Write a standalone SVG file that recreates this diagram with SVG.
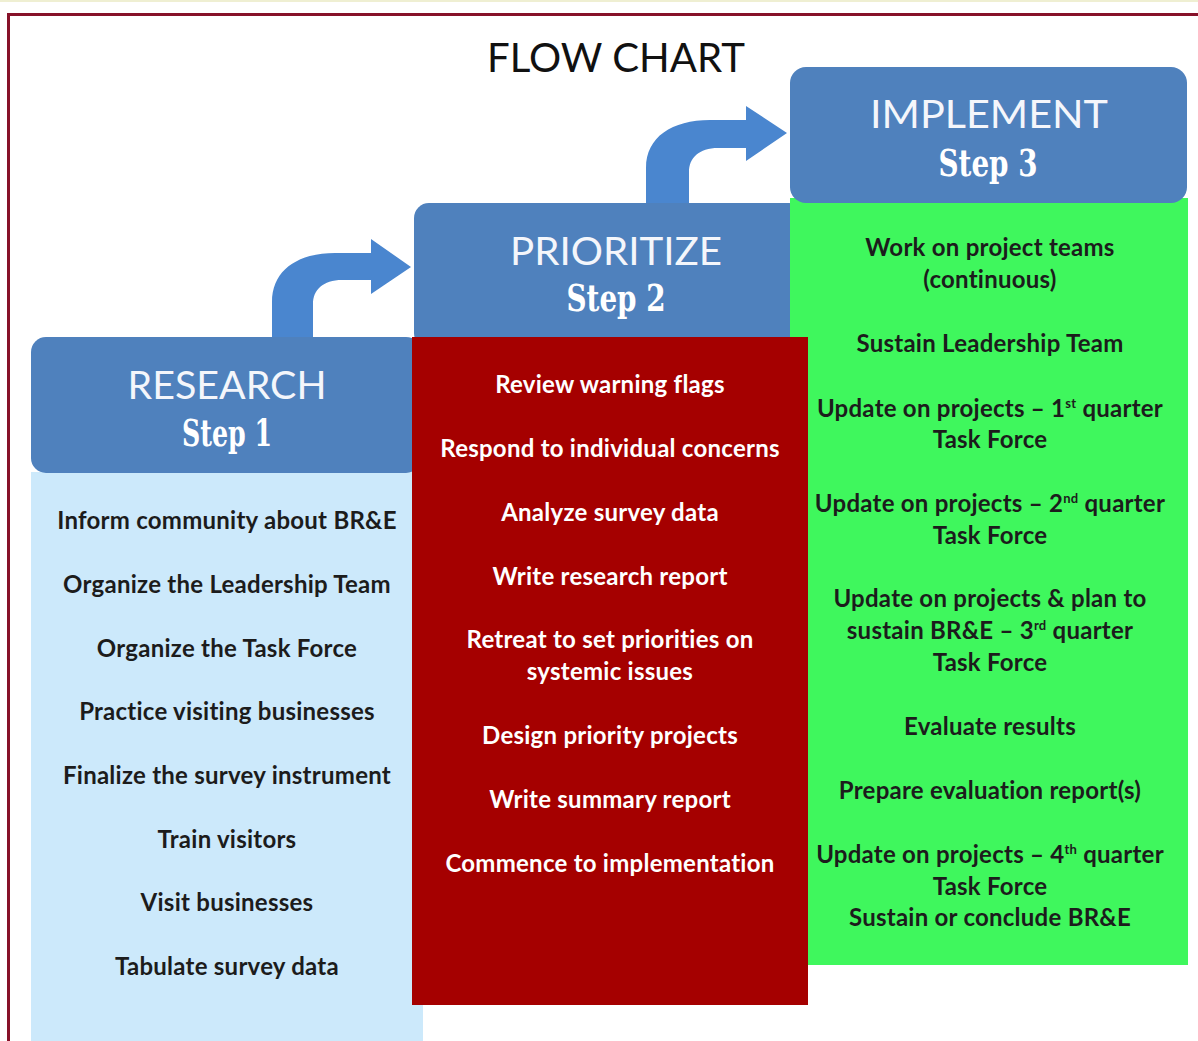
<svg xmlns="http://www.w3.org/2000/svg" width="1198" height="1041" viewBox="0 0 1198 1041">
<style>
.hdr{fill:#4f81bd}
.htitle{font-family:Lato,"Liberation Sans",sans-serif;font-size:38px;fill:#f4f6fb;text-anchor:middle}
.step{font-family:"DejaVu Serif","Liberation Serif",serif;font-weight:bold;font-size:37px;fill:#ffffff;text-anchor:middle}
.item{font-family:Lato,"Liberation Sans",sans-serif;font-weight:bold;font-size:24px;letter-spacing:0.25px;text-anchor:middle}
.dark{fill:#1c1c1c}
.light{fill:#ffffff}
.arrow{fill:#4a86cf}
.sup{font-size:13px}
</style>
<rect x="0" y="0" width="1198" height="1041" fill="#ffffff"/>
<rect x="0" y="0" width="1198" height="2" fill="#efefd2"/>
<path d="M8.5,1041 V14.5 H1198" fill="none" stroke="#871129" stroke-width="3"/>
<g id="title">
<text x="616" y="72" font-family="Lato,'Liberation Sans',sans-serif" font-size="40" fill="#111111" text-anchor="middle" textLength="258" lengthAdjust="spacingAndGlyphs">FLOW CHART</text>
</g>
<g id="connectors">
<path class="arrow" d="M272,340 V302 C272,270 298,253 335,253 H371 V239 L411,267 L371,294 V280 H342 C323,280 313,290 313,304 V340 Z"/>
<path class="arrow" d="M646,206 V168 C646,137 672,120 710,120 H746 V106 L787,133 L746,161 V148 H718 C699,148 689,158 689,172 V206 Z"/>
</g>
<g id="node-research">
<rect x="31" y="472" width="392" height="569" fill="#cce9fb"/>
<rect class="hdr" x="31" y="337" width="390" height="136" rx="15" ry="15"/>
<text class="htitle" x="227" y="399" textLength="199" lengthAdjust="spacingAndGlyphs">RESEARCH</text>
<text class="step" x="227" y="446" textLength="90" lengthAdjust="spacingAndGlyphs">Step 1</text>
<text class="item dark" x="227" y="529">Inform community about BR&amp;E</text>
<text class="item dark" x="227" y="593">Organize the Leadership Team</text>
<text class="item dark" x="227" y="657">Organize the Task Force</text>
<text class="item dark" x="227" y="720">Practice visiting businesses</text>
<text class="item dark" x="227" y="784">Finalize the survey instrument</text>
<text class="item dark" x="227" y="848">Train visitors</text>
<text class="item dark" x="227" y="911">Visit businesses</text>
<text class="item dark" x="227" y="975">Tabulate survey data</text>
</g>
<g id="node-prioritize">
<rect class="hdr" x="414" y="203" width="390" height="145" rx="15" ry="15"/>
</g>
<g id="node-implement">
<rect x="790" y="198" width="398" height="767" fill="#3ff75d"/>
<rect class="hdr" x="790" y="67" width="397" height="136" rx="16" ry="16"/>
<text class="htitle" x="989" y="128" textLength="238" lengthAdjust="spacingAndGlyphs">IMPLEMENT</text>
<text class="step" x="988" y="176" textLength="99" lengthAdjust="spacingAndGlyphs">Step 3</text>
<text class="item dark" x="990" y="256">Work on project teams</text>
<text class="item dark" x="990" y="288">(continuous)</text>
<text class="item dark" x="990" y="352">Sustain Leadership Team</text>
<text class="item dark" x="990" y="417">Update on projects – 1<tspan class="sup" dy="-9">st</tspan><tspan dy="9"> quarter</tspan></text>
<text class="item dark" x="990" y="448">Task Force</text>
<text class="item dark" x="990" y="512">Update on projects – 2<tspan class="sup" dy="-9">nd</tspan><tspan dy="9"> quarter</tspan></text>
<text class="item dark" x="990" y="544">Task Force</text>
<text class="item dark" x="990" y="607">Update on projects &amp; plan to</text>
<text class="item dark" x="990" y="639">sustain BR&amp;E – 3<tspan class="sup" dy="-9">rd</tspan><tspan dy="9"> quarter</tspan></text>
<text class="item dark" x="990" y="671">Task Force</text>
<text class="item dark" x="990" y="735">Evaluate results</text>
<text class="item dark" x="990" y="799">Prepare evaluation report(s)</text>
<text class="item dark" x="990" y="863">Update on projects – 4<tspan class="sup" dy="-9">th</tspan><tspan dy="9"> quarter</tspan></text>
<text class="item dark" x="990" y="895">Task Force</text>
<text class="item dark" x="990" y="926">Sustain or conclude BR&amp;E</text>
</g>
<g id="node-prioritize-body">
<rect x="412" y="337" width="396" height="668" fill="#a50000"/>
<text class="htitle" x="616" y="265" textLength="212" lengthAdjust="spacingAndGlyphs">PRIORITIZE</text>
<text class="step" x="616" y="311" textLength="99" lengthAdjust="spacingAndGlyphs">Step 2</text>
<text class="item light" x="610" y="393">Review warning flags</text>
<text class="item light" x="610" y="457">Respond to individual concerns</text>
<text class="item light" x="610" y="521">Analyze survey data</text>
<text class="item light" x="610" y="585">Write research report</text>
<text class="item light" x="610" y="648">Retreat to set priorities on</text>
<text class="item light" x="610" y="680">systemic issues</text>
<text class="item light" x="610" y="744">Design priority projects</text>
<text class="item light" x="610" y="808">Write summary report</text>
<text class="item light" x="610" y="872">Commence to implementation</text>
</g>
</svg>
